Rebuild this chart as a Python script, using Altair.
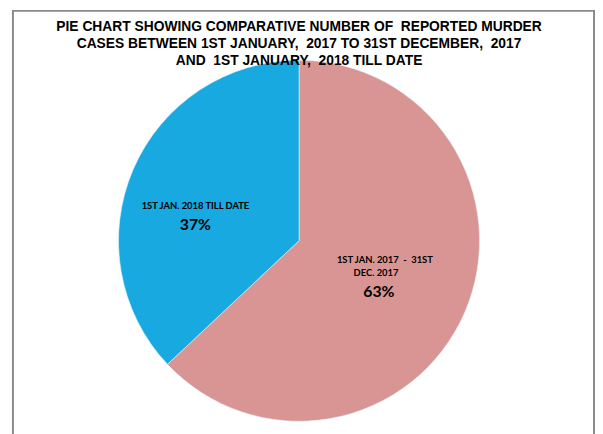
import altair as alt
import pandas as pd

# Data
periods = ["1ST JAN. 2017 - 31ST DEC. 2017", "1ST JAN. 2018 TILL DATE"]
shares = [63, 37]
colors = ["#D99594", "#17A9E0"]
order = [0, 1]

NB = "\u00a0"
title_lines = [
    "PIE CHART SHOWING COMPARATIVE NUMBER OF " + NB + "REPORTED MURDER",
    "CASES BETWEEN 1ST JANUARY, " + NB + "2017 TO 31ST DECEMBER, " + NB + "2017",
    "AND " + NB + "1ST JANUARY, " + NB + "2018 TILL DATE",
]
label_2018 = ["1ST JAN. 2018 TILL DATE", "37%"]
label_2017 = ["1ST JAN. 2017 " + NB + "- " + NB + "31ST", "DEC. 2017", "63%"]

df = pd.DataFrame({"period": periods, "share": shares, "order": order})

W, H = 595, 426
CX, CY, R = 295, 233, 183

pie = alt.Chart(df).mark_arc(outerRadius=R, stroke="#e6f4fb", strokeWidth=0.6).encode(
    theta=alt.Theta("share:Q", stack=True),
    order=alt.Order("order:Q"),
    color=alt.Color("period:N", scale=alt.Scale(domain=periods, range=colors), legend=None),
    x=alt.value(CX),
    y=alt.value(CY),
)

border = alt.Chart(pd.DataFrame({"a": [0]})).mark_rect(
    fill=None, stroke="#8a8a8a", strokeWidth=2
).encode(x=alt.value(5), x2=alt.value(594), y=alt.value(0), y2=alt.value(450))

def text_layer(txt, x, y, size, font, dy_base="alphabetic"):
    return alt.Chart(pd.DataFrame({"t": [txt]})).mark_text(
        font=font, fontWeight="bold", fontSize=size, align="center",
        baseline=dy_base, color="#000000",
    ).encode(text="t:N", x=alt.value(x), y=alt.value(y))

layers = [border, pie]
for txt, yb in zip(title_lines, [20, 38, 55]):
    layers.append(text_layer(txt, 295, yb, 14, "Liberation Sans"))

layers.append(text_layer(label_2018[0], 190, 201, 9.5, "Lato"))
layers.append(text_layer(label_2018[1], 190, 222, 16, "Lato"))
layers.append(text_layer(label_2017[0], 382, 256, 9.5, "Lato"))
layers.append(text_layer(label_2017[1], 373, 269, 9.5, "Lato"))
layers.append(text_layer(label_2017[2], 376, 290, 16, "Lato"))

chart = alt.layer(*layers).properties(
    width=W, height=H, autosize=alt.AutoSizeParams(type="none"), padding=0,
).configure_view(stroke=None)

chart.save("out.html", embed_options={"renderer": "svg", "actions": False})
